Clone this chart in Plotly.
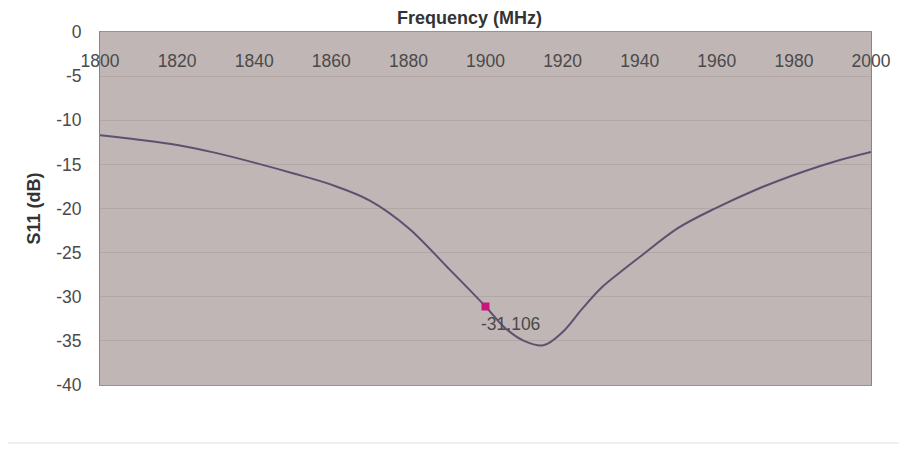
import plotly.graph_objects as go

freq_mhz = [1800, 1810, 1820, 1830, 1840, 1850, 1860, 1870, 1880, 1890, 1900,
            1905, 1910, 1915, 1920, 1925, 1930, 1935, 1940, 1950, 1960, 1970,
            1980, 1990, 2000]
s11_db = [-11.7, -12.2, -12.8, -13.7, -14.8, -16.0, -17.3, -19.1, -22.2, -26.6,
          -31.1, -33.5, -35.0, -35.5, -34.0, -31.4, -29.0, -27.2, -25.5, -22.2,
          -19.9, -17.9, -16.2, -14.75, -13.6]

marker_freq = [1900]
marker_val = [-31.106]
marker_label = ["-31.106"]

x_ticks = [1800, 1820, 1840, 1860, 1880, 1900, 1920, 1940, 1960, 1980, 2000]
y_ticks = [0, -5, -10, -15, -20, -25, -30, -35, -40]
y_tick_text = ["0", "-5", "-10", "-15", "-20", "-25", "-30", "-35", "-40"]

FONT = "Liberation Sans, Arial, sans-serif"
TXT = "#4a4a4a"

fig = go.Figure()
fig.add_trace(go.Scatter(
    x=freq_mhz, y=s11_db, mode="lines",
    line=dict(color="#5b5270", width=2, shape="spline", smoothing=1.0),
    hoverinfo="skip", showlegend=False))
fig.add_trace(go.Scatter(
    x=marker_freq, y=marker_val, mode="markers",
    marker=dict(symbol="square", size=8, color="#c8177a"),
    showlegend=False))

fig.add_annotation(x=marker_freq[0], y=marker_val[0], text=marker_label[0],
                   showarrow=False, xshift=25, yshift=-17,
                   font=dict(family=FONT, size=17.5, color=TXT))

fig.add_annotation(xref="paper", yref="paper", x=0.479, y=1.0,
                   yanchor="middle", yshift=14,
                   text="<b>Frequency (MHz)</b>", showarrow=False,
                   font=dict(family=FONT, size=18, color="#333333"))

fig.add_shape(type="rect", xref="paper", yref="paper",
              x0=-0.1245, x1=1.0415, y0=-0.1643, y1=1.0822,
              line=dict(color="#e2e2e2", width=1), layer="below")

fig.update_layout(
    width=899, height=444,
    margin=dict(l=92, r=36, t=24, b=67),
    paper_bgcolor="white", plot_bgcolor="#c0b6b5",
    font=dict(family=FONT, size=17.5, color=TXT),
    xaxis=dict(range=[1800, 2000], tickvals=x_ticks, side="top",
               ticklabelposition="inside", ticklabelstandoff=23,
               ticklabeloverflow="allow",
               showgrid=False, zeroline=False, ticks="",
               showline=True, linecolor="#9a9090", mirror=True,
               tickfont=dict(family=FONT, size=17.5, color=TXT)),
    yaxis=dict(range=[-40, 0], tickvals=y_ticks, ticktext=y_tick_text,
               showgrid=True, ticklabeloverflow="allow",
               gridcolor="#b2a7a5", gridwidth=1, zeroline=False, ticks="",
               showline=True, linecolor="#8a8484", mirror=True,
               ticklabelstandoff=14,
               title=dict(text="<b>S11 (dB)</b>", standoff=10,
                          font=dict(family=FONT, size=18, color="#333333")),
               tickfont=dict(family=FONT, size=17.5, color=TXT)),
)

fig.write_html("out.html")
